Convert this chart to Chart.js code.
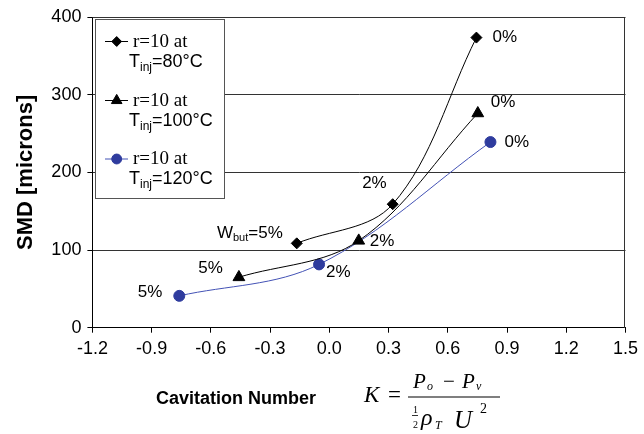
<!DOCTYPE html>
<html><head><meta charset="utf-8">
<script src="https://cdn.jsdelivr.net/npm/chart.js@4/dist/chart.umd.min.js"></script>
<style>html,body{margin:0;padding:0;background:#fff;}#wrap{position:relative;width:644px;height:434px;}</style>
</head><body><div id="wrap"><canvas id="c" width="644" height="434"></canvas></div>
<script>
// ---- data ----
const k80 = [-0.165, 0.321, 0.745];
const smd80 = [108.6, 159, 373.5];
const k100 = [-0.458, 0.149, 0.752];
const smd100 = [65, 112, 276];
const k120 = [-0.76, -0.052, 0.816];
const smd120 = [41, 81.5, 239];
const pointLabels80 = ['W_but=5%', '2%', '0%'];
const pointLabels100 = ['5%', '2%', '0%'];
const pointLabels120 = ['5%', '2%', '0%'];
const legendLine1 = ['r=10 at', 'r=10 at', 'r=10 at'];
const legendTemps = ['80°C', '100°C', '120°C'];
const xTicks = [-1.2, -0.9, -0.6, -0.3, 0.0, 0.3, 0.6, 0.9, 1.2, 1.5];
const yTicks = [0, 100, 200, 300, 400];
const yTitle = 'SMD [microns]';
const xTitle = 'Cavitation Number';

const BLUE = '#2f3c9e';
const toPts = (xs, ys) => xs.map((x, i) => ({x: x, y: ys[i]}));

// label layout: [dx, dy, align]
const labelLayout = [
  [[-14, -10, 'right'], [-6, -21, 'right'], [16, 0, 'left']],
  [[-16, -9, 'right'], [11, 1, 'left'], [13, -11, 'left']],
  [[-17, -4, 'right'], [7, 8, 'left'], [14, 0, 'left']]
];
const allLabels = [pointLabels80, pointLabels100, pointLabels120];

function subText(ctx, text, x, y, size, align) {
  const parts = text.split('_');
  let main = parts[0], sub = '', rest = '';
  if (parts.length > 1) {
    const eq = parts[1].indexOf('=');
    sub = parts[1].slice(0, eq); rest = parts[1].slice(eq);
  }
  const f = size + 'px "Liberation Sans", Arial, sans-serif';
  const fs = Math.round(size * 0.65) + 'px "Liberation Sans", Arial, sans-serif';
  ctx.font = f; const w1 = ctx.measureText(main).width; const w3 = ctx.measureText(rest).width;
  ctx.font = fs; const w2 = ctx.measureText(sub).width;
  const tot = w1 + w2 + w3;
  let sx = align === 'right' ? x - tot : x;
  ctx.textAlign = 'left'; ctx.textBaseline = 'middle';
  ctx.font = f; ctx.fillText(main, sx, y);
  ctx.font = fs; ctx.fillText(sub, sx + w1, y + size * 0.3);
  ctx.font = f; ctx.fillText(rest, sx + w1 + w2, y);
}

const annot = {
  id: 'annot',
  beforeDatasetsDraw(chart) {
    const {ctx, chartArea: a} = chart;
    ctx.save();
    ctx.strokeStyle = '#333'; ctx.lineWidth = 1;
    ctx.beginPath();
    ctx.moveTo(Math.round(a.left) + 0.5, Math.round(a.top) + 0.5);
    ctx.lineTo(Math.round(a.right) - 0.5, Math.round(a.top) + 0.5);
    ctx.lineTo(Math.round(a.right) - 0.5, Math.round(a.bottom));
    ctx.stroke();
    ctx.restore();
  },
  afterDraw(chart) {
    const {ctx} = chart;
    ctx.save();
    ctx.fillStyle = '#000';
    chart.data.datasets.forEach((ds, di) => {
      const meta = chart.getDatasetMeta(di);
      meta.data.forEach((el, i) => {
        const [dx, dy, al] = labelLayout[di][i];
        subText(ctx, allLabels[di][i], el.x + dx, el.y + dy, 17, al);
      });
    });
    // legend
    const L = 95.5, T = 19.5, R = 224.5, B = 198.5;
    ctx.fillStyle = '#fff'; ctx.fillRect(L, T, R - L, B - T);
    ctx.strokeStyle = '#555'; ctx.lineWidth = 1; ctx.strokeRect(L, T, R - L, B - T);
    const rows = [41, 100, 158.5];
    chart.data.datasets.forEach((ds, di) => {
      const y = rows[di];
      ctx.strokeStyle = ds.borderColor; ctx.lineWidth = 1;
      ctx.beginPath(); ctx.moveTo(105, y + 0.5); ctx.lineTo(128, y + 0.5); ctx.stroke();
      ctx.fillStyle = ds.pointBackgroundColor; ctx.strokeStyle = ds.pointBorderColor;
      Chart.helpers.drawPoint(ctx, {pointStyle: ds.pointStyle, radius: ds.pointRadius * 0.9, borderWidth: 1, rotation: 0}, 116.7, y + 0.5);
      ctx.fillStyle = '#000';
      ctx.textAlign = 'left'; ctx.textBaseline = 'middle';
      ctx.font = '19px "Liberation Serif", "Times New Roman", serif';
      ctx.fillText(legendLine1[di], 133, y + 1);
      subText(ctx, 'T_inj=' + legendTemps[di], 129, y + 21, 18, 'left');
    });
    // x-axis title and formula
    ctx.fillStyle = '#000';
    ctx.textBaseline = 'middle'; ctx.textAlign = 'left';
    ctx.font = 'bold 18px "Liberation Sans", Arial, sans-serif';
    ctx.fillText(xTitle, 156, 399);
    ctx.textBaseline = 'alphabetic';
    const ser = '"Liberation Serif", "Times New Roman", serif';
    ctx.font = 'italic 23px ' + ser; ctx.fillText('K', 364, 402);
    ctx.font = '23px ' + ser; ctx.fillText('=', 388, 402);
    ctx.fillRect(408, 396.5, 92, 1);
    ctx.font = 'italic 21px ' + ser; ctx.fillText('P', 413, 388);
    ctx.font = 'italic 12px ' + ser; ctx.fillText('o', 427, 390);
    ctx.font = '21px ' + ser; ctx.fillText('\u2212', 443, 388);
    ctx.font = 'italic 21px ' + ser; ctx.fillText('P', 462, 388);
    ctx.font = 'italic 12px ' + ser; ctx.fillText('v', 476, 390);
    ctx.font = '10px ' + ser; ctx.fillText('1', 413, 413); ctx.fillText('2', 413, 428);
    ctx.fillRect(412, 415, 6, 0.8);
    ctx.font = 'italic 24px ' + ser; ctx.fillText('\u03c1', 421, 425);
    ctx.font = 'italic 12px ' + ser; ctx.fillText('T', 435, 429);
    ctx.font = 'italic 25px ' + ser; ctx.fillText('U', 454, 428);
    ctx.font = '14px ' + ser; ctx.fillText('2', 480, 413);
    ctx.restore();
  }
};

const common = {borderWidth: 1, tension: 0.35, pointBorderWidth: 1, fill: false};
new Chart(document.getElementById('c'), {
  type: 'line',
  data: {
    datasets: [
      Object.assign({label: 'r=10 at Tinj=80°C', data: toPts(k80, smd80), borderColor: '#000', pointStyle: 'rectRot', pointRadius: 5.5, pointBackgroundColor: '#000', pointBorderColor: '#000'}, common),
      Object.assign({label: 'r=10 at Tinj=100°C', data: toPts(k100, smd100), borderColor: '#000', pointStyle: 'triangle', pointRadius: 6.8, pointBackgroundColor: '#000', pointBorderColor: '#000'}, common),
      Object.assign({label: 'r=10 at Tinj=120°C', data: toPts(k120, smd120), borderColor: '#4352b5', pointStyle: 'circle', pointRadius: 5.5, pointBackgroundColor: BLUE, pointBorderColor: BLUE}, common)
    ]
  },
  options: {
    responsive: false, animation: false, devicePixelRatio: 1,
    layout: {padding: {top: 17, right: 14.5, left: 0, bottom: 0}},
    plugins: {legend: {display: false}, tooltip: {enabled: false}},
    scales: {
      x: {
        type: 'linear', min: -1.2, max: 1.5,
        afterBuildTicks: s => { s.ticks = xTicks.map(v => ({value: v})); },
        ticks: {callback: v => v.toFixed(1), color: '#000', font: {family: '"Liberation Sans", Arial, sans-serif', size: 18}, padding: 6, maxRotation: 0, autoSkip: false},
        grid: {drawOnChartArea: false, tickLength: 5, tickColor: '#000'},
        border: {color: '#000'},
        afterFit: s => { s.height = 434 - 327.7; }
      },
      y: {
        type: 'linear', min: 0, max: 400,
        afterBuildTicks: s => { s.ticks = yTicks.map(v => ({value: v})); },
        ticks: {color: '#000', font: {family: '"Liberation Sans", Arial, sans-serif', size: 18}, padding: 6},
        grid: {color: '#333', tickLength: 5, tickColor: '#000'},
        border: {color: '#000'},
        title: {display: true, text: yTitle, color: '#000', font: {family: '"Liberation Sans", Arial, sans-serif', size: 22, weight: 'bold'}, padding: {top: 13, bottom: 0}},
        afterFit: s => { s.width = 92.4; }
      }
    }
  },
  plugins: [annot]
});
</script></body></html>
